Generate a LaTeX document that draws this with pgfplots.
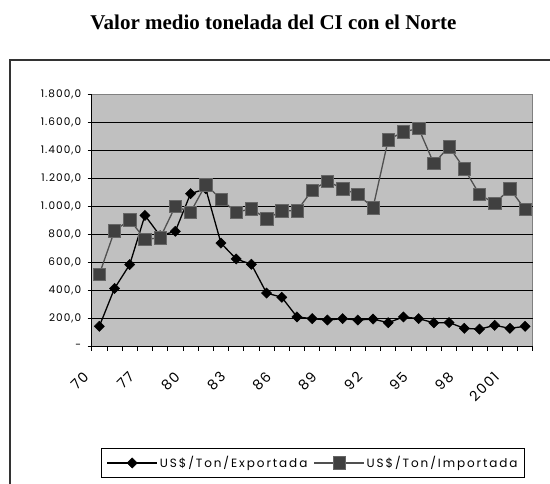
\documentclass[border=0pt]{standalone}
\usepackage{fontspec}
\setmainfont{Poppins}
\newfontfamily\titlefont{Liberation Serif}
\newfontfamily\legfont[LetterSpace=16]{Poppins}
\newfontfamily\yfont[LetterSpace=10]{Poppins}
\newfontfamily\xfont[LetterSpace=12]{Poppins}
\usepackage{pgfplots}
\pgfplotsset{compat=1.18}
\definecolor{plotbg}{HTML}{C0C0C0}
\definecolor{impfill}{HTML}{404040}
\definecolor{impline}{HTML}{505050}
\begin{document}
\begin{tikzpicture}[x=1pt,y=1pt]
\useasboundingbox (0,0) rectangle (550,483);
\draw[line width=1.5pt, color=black!80] (10,-5) -- (10,423) -- (555,423);
\node[anchor=base, font=\titlefont\bfseries\fontsize{21}{24}\selectfont] at (273.5,453.7) {Valor medio tonelada del CI con el Norte};
\begin{axis}[
  at={(91.7pt,136.3pt)}, anchor=south west,
  scale only axis, width=441pt, height=252.7pt,
  xmin=-0.5, xmax=28.5, ymin=0, ymax=1800,
  axis background/.style={fill=plotbg, draw=black!50, line width=0.8pt},
  axis x line*=bottom, axis y line*=left,
  axis line style={-, black, line width=1pt},
  tick align=outside,
  major tick length=4pt,
  tick style={black, line width=0.7pt},
  xtick={-0.5,0.5,...,28.5},
  xticklabels={},
  extra x ticks={0,3,...,27},
  extra x tick labels={70,77,80,83,86,89,92,95,98,2001},
  extra x tick style={major tick length=0pt, tick label style={xshift=-17pt, yshift=-19pt, rotate=45, anchor=north east, font=\xfont\fontsize{14}{16}\selectfont}},
  ytick={0,200,...,1600},
  yticklabels={-\hspace{18pt},200{,}0,400{,}0,600{,}0,800{,}0,1.000{,}0,1.200{,}0,1.400{,}0,1.600{,}0},
  extra y ticks={1800},
  extra y tick labels={1.800{,}0},
  extra y tick style={grid=none},
  yticklabel style={font=\yfont\fontsize{10.5}{12}\selectfont, xshift=-3pt},
  ymajorgrids,
  major grid style={black, line width=0.8pt},
  legend style={at={(0.502,-0.46)}, anchor=center, legend columns=2, draw=black, line width=0.9pt, fill=white,
    font=\legfont\fontsize{12}{14}\selectfont, inner xsep=5pt, inner ysep=6pt,
    /tikz/every even column/.append style={column sep=4pt}},
  legend cell align=left,
  legend image code/.code={\draw[mark repeat=2,mark phase=2,#1] plot coordinates {(0pt,0pt) (25pt,0pt) (50pt,0pt)};},
]
\addplot[black, line width=1.3pt, mark=square*, mark size=3.6pt, mark options={rotate=45, fill=black, draw=black, line width=0.5pt}]
coordinates {
(0,145) (1,415) (2,585) (3,935) (4,790) (5,822) (6,1090) (7,1125) (8,738) (9,625)
(10,587) (11,382) (12,352) (13,212) (14,200) (15,190) (16,200) (17,190) (18,197) (19,171)
(20,212) (21,200) (22,170) (23,172) (24,131) (25,125) (26,152) (27,131) (28,145)
};
\addlegendentry{US\$/Ton/Exportada}
\addplot[impline, line width=1.3pt, mark=square*, mark size=6.2pt, mark options={fill=impfill, draw=black!60, line width=0.5pt}]
coordinates {
(0,515) (1,825) (2,905) (3,765) (4,775) (5,1000) (6,958) (7,1155) (8,1050) (9,957)
(10,983) (11,910) (12,968) (13,968) (14,1115) (15,1180) (16,1125) (17,1085) (18,990) (19,1475)
(20,1530) (21,1555) (22,1305) (23,1425) (24,1268) (25,1085) (26,1020) (27,1125) (28,978)
};
\addlegendentry{US\$/Ton/Importada}
\end{axis}
\end{tikzpicture}
\end{document}
